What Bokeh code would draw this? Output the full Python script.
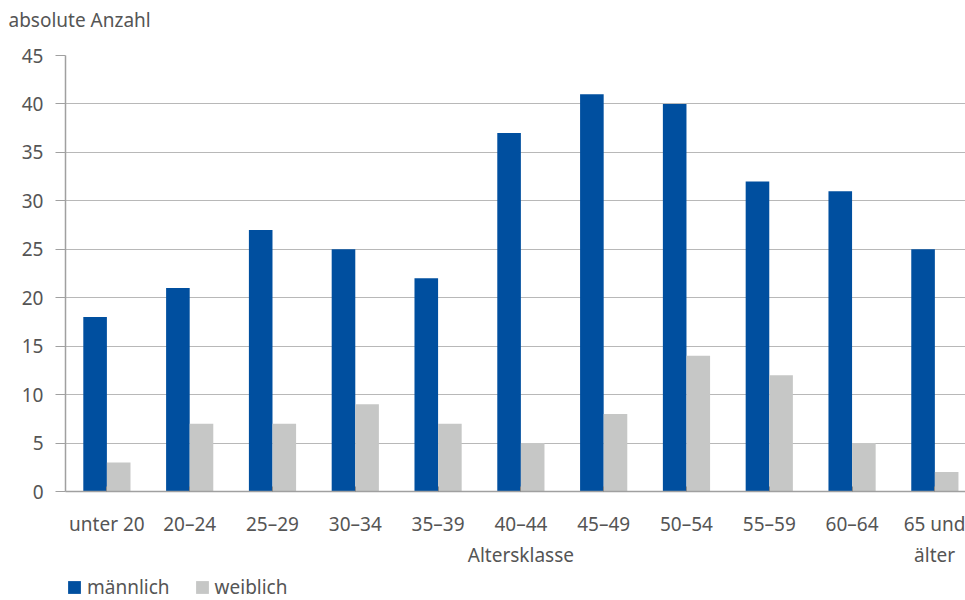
from bokeh.plotting import figure
from bokeh.layouts import column
from bokeh.models import ColumnDataSource, Legend, LegendItem, FixedTicker, Range1d, Title
from bokeh.embed import file_html
from bokeh.resources import INLINE

categories = ["unter 20", "20–24", "25–29", "30–34", "35–39", "40–44",
              "45–49", "50–54", "55–59", "60–64", "65 und\nälter"]
maennlich = [18, 21, 27, 25, 22, 37, 41, 40, 32, 31, 25]
weiblich = [3, 7, 7, 9, 7, 5, 8, 14, 12, 5, 2]
y_ticks = [0, 5, 10, 15, 20, 25, 30, 35, 40, 45]
x_title = "Altersklasse"
y_title = "absolute Anzahl"
series_names = ["männlich", "weiblich"]

FONT = "Noto Sans"
TXT = "#555555"
BLUE = "#004f9f"
GREY = "#c6c7c6"
FS = "19px"

centers = [i + 0.5 for i in range(len(categories))]
bw = 0.285
src = ColumnDataSource(dict(
    xm=[c - bw / 2 for c in centers], xw=[c + bw / 2 for c in centers],
    m=maennlich, w=weiblich))

# ---- header strip with the y-axis caption ----
pt = figure(width=965, height=40, output_backend="svg", toolbar_location=None,
            x_range=Range1d(0, 10.87), y_range=Range1d(0, 1),
            x_axis_location=None, y_axis_location=None,
            min_border_left=65, min_border_right=0, min_border_top=0,
            min_border_bottom=0)
pt.outline_line_color = None
pt.grid.grid_line_color = None
pt.add_layout(Title(text=y_title, align="left", offset=-57, vertical_align="middle",
                    text_font=FONT, text_font_size=FS, text_color=TXT,
                    text_font_style="normal", standoff=10), "above")

# ---- main chart ----
p = figure(frame_width=900, frame_height=436, output_backend="svg", toolbar_location=None,
           x_range=Range1d(0, 10.87), y_range=Range1d(0, 45),
           min_border_left=65, min_border_right=0, min_border_top=15,
           min_border_bottom=0)
p.outline_line_color = None
p.xgrid.grid_line_color = None
p.ygrid.grid_line_color = "#b8b8b8"
p.ygrid.grid_line_width = 1.2

p.vbar(x="xm", top="m", width=bw, source=src, fill_color=BLUE, line_color=None)
p.vbar(x="xw", top="w", width=bw, source=src, fill_color=GREY, line_color=None)

p.yaxis.ticker = FixedTicker(ticks=y_ticks)
p.yaxis.axis_line_color = "#a0a0a0"
p.yaxis.axis_line_width = 1.5
p.yaxis.major_tick_line_color = "#a0a0a0"
p.yaxis.major_tick_out = 10
p.yaxis.major_tick_in = 0
p.yaxis.minor_tick_line_color = None
p.yaxis.major_label_standoff = 12
p.yaxis.major_label_text_font = FONT
p.yaxis.major_label_text_font_size = FS
p.yaxis.major_label_text_color = TXT

# x-axis: the axis caption sits on the second label line, centred under the middle category
labels = list(categories)
mid = len(categories) // 2
labels[mid] = labels[mid] + "\n" + x_title
p.xaxis.ticker = FixedTicker(ticks=centers)
p.xaxis.major_label_overrides = {c: lab for c, lab in zip(centers, labels)}
p.xaxis.axis_line_color = "#a0a0a0"
p.xaxis.axis_line_width = 1.5
p.xaxis.major_tick_line_color = "#888888"
p.xaxis.major_tick_in = 5
p.xaxis.major_tick_out = 0
p.xaxis.minor_tick_line_color = None
p.xaxis.major_label_standoff = 19
p.xaxis.major_label_text_font = FONT
p.xaxis.major_label_text_font_size = FS
p.xaxis.major_label_text_color = TXT

# ---- legend strip below the chart (same series, drawn out of view so only the legend shows) ----
pl = figure(width=965, height=32, output_backend="svg", toolbar_location=None,
            x_range=Range1d(0, 10.87), y_range=Range1d(1000, 1001),
            x_axis_location=None, y_axis_location=None,
            min_border_left=65, min_border_right=0,
            min_border_top=0, min_border_bottom=0)
pl.outline_line_color = None
pl.grid.grid_line_color = None
lm = pl.vbar(x="xm", top="m", width=bw, source=src, fill_color=BLUE, line_color=None)
lw = pl.vbar(x="xw", top="w", width=bw, source=src, fill_color=GREY, line_color=None)
legend = Legend(items=[LegendItem(label=series_names[0], renderers=[lm]),
                       LegendItem(label=series_names[1], renderers=[lw])],
                location=(1, 2), orientation="horizontal",
                glyph_width=16, glyph_height=16, label_standoff=5, spacing=24,
                label_height=16, padding=0, margin=0, border_line_color=None,
                background_fill_alpha=0, label_text_font=FONT,
                label_text_font_size=FS, label_text_color=TXT)
pl.add_layout(legend, "center")

layout = column(pt, p, pl, spacing=0)
open("out.html", "w").write(file_html(layout, INLINE))
